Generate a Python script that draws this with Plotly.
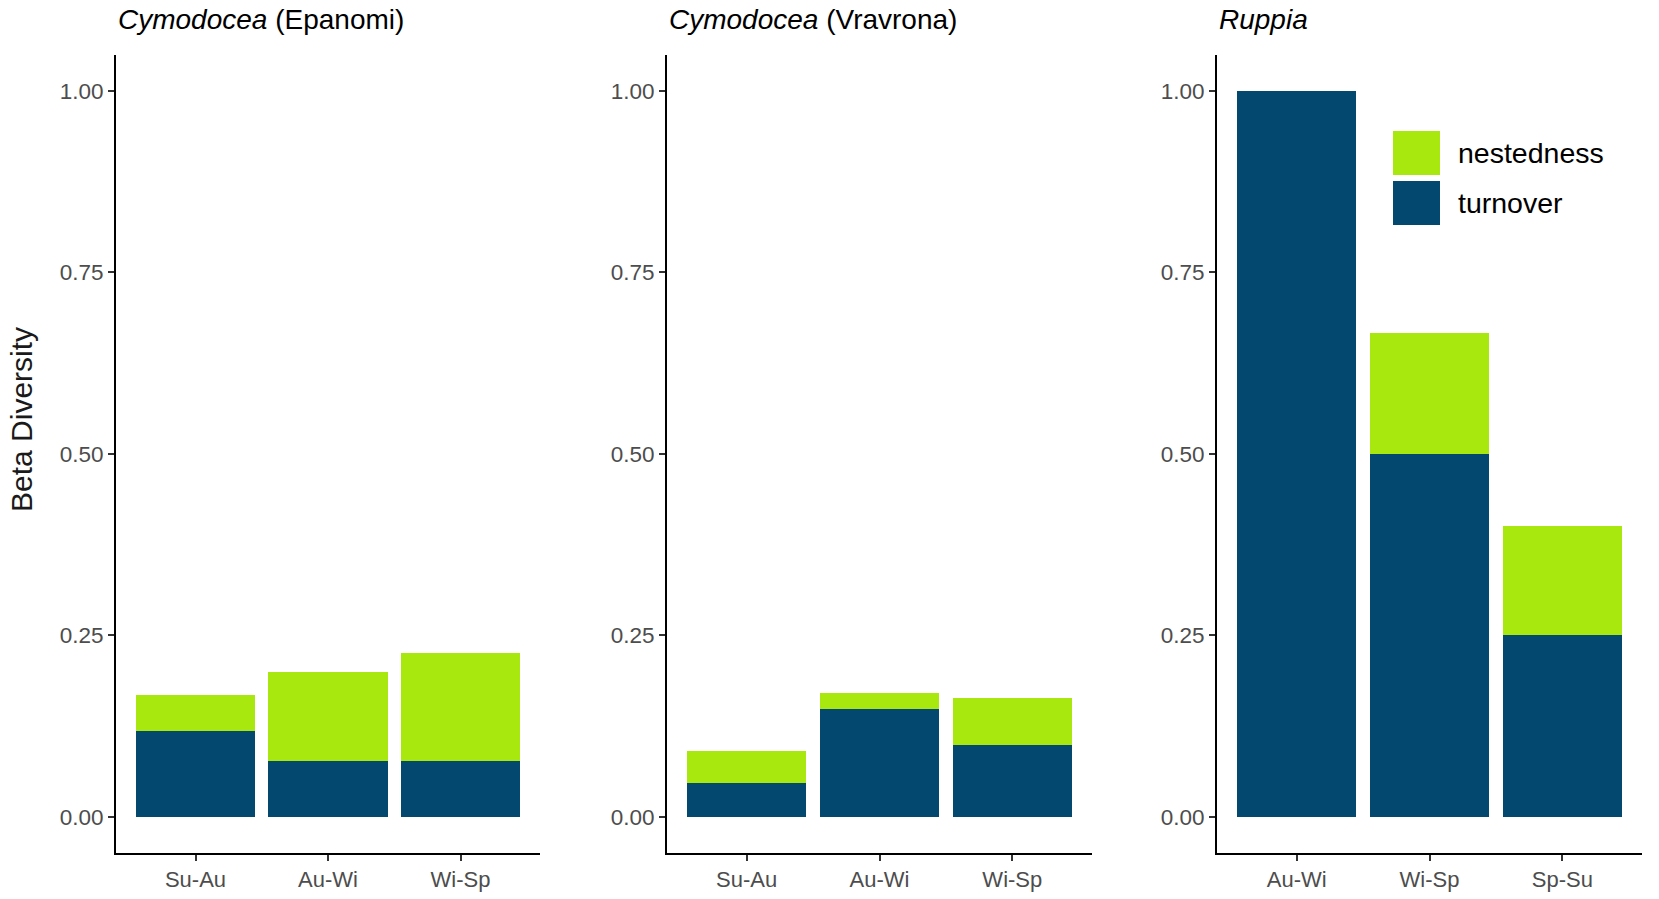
import plotly.graph_objects as go
from plotly.subplots import make_subplots

# ---- data ----
panel_titles = ["<i>Cymodocea</i> (Epanomi)", "<i>Cymodocea</i> (Vravrona)", "<i>Ruppia</i>"]
cats_epanomi = ["Su-Au", "Au-Wi", "Wi-Sp"]
cats_vravrona = ["Su-Au", "Au-Wi", "Wi-Sp"]
cats_ruppia = ["Au-Wi", "Wi-Sp", "Sp-Su"]

turnover_epanomi = [0.118, 0.077, 0.077]
nestedness_epanomi = [0.049, 0.123, 0.149]

turnover_vravrona = [0.047, 0.149, 0.099]
nestedness_vravrona = [0.043, 0.021, 0.064]

turnover_ruppia = [1.0, 0.5, 0.25]
nestedness_ruppia = [0.0, 0.167, 0.15]

y_ticks = [0.0, 0.25, 0.5, 0.75, 1.0]
y_ticklabels = ["0.00", "0.25", "0.50", "0.75", "1.00"]

col_turnover = "#03496F"
col_nested = "#A8E80F"

# page is 1659x899; body margin is removed by post_script below
W, H = 1659, 899
FONT = "Liberation Sans, Arial, sans-serif"


def px_x(p):
    return p / W


def px_y(p):
    return 1 - p / H


fig = make_subplots(rows=1, cols=3)

panels = [
    (cats_epanomi, turnover_epanomi, nestedness_epanomi),
    (cats_vravrona, turnover_vravrona, nestedness_vravrona),
    (cats_ruppia, turnover_ruppia, nestedness_ruppia),
]
for i, (cats, tv, nv) in enumerate(panels, start=1):
    fig.add_trace(go.Bar(x=cats, y=tv, name="turnover", marker_color=col_turnover,
                         marker_line_width=0, showlegend=False), row=1, col=i)
    fig.add_trace(go.Bar(x=cats, y=nv, name="nestedness", marker_color=col_nested,
                         marker_line_width=0, showlegend=False), row=1, col=i)

x_domains = [[px_x(116), px_x(540)], [px_x(667), px_x(1092)], [px_x(1217), px_x(1642)]]
y_dom = [px_y(853), px_y(54.5)]

for i in range(1, 4):
    xa = "xaxis" if i == 1 else f"xaxis{i}"
    ya = "yaxis" if i == 1 else f"yaxis{i}"
    fig.layout[xa].update(domain=x_domains[i - 1], range=[-0.6, 2.6],
                          showline=True, linecolor="black", linewidth=2,
                          ticks="outside", ticklen=6, tickwidth=1.5, tickcolor="#333333",
                          tickfont=dict(size=22, color="#4D4D4D", family=FONT),
                          showgrid=False, zeroline=False, fixedrange=True)
    fig.layout[ya].update(domain=y_dom, range=[-0.05, 1.05],
                          showline=True, linecolor="black", linewidth=2,
                          ticks="outside", ticklen=6, tickwidth=1.5, tickcolor="#333333",
                          tickvals=y_ticks, ticktext=y_ticklabels,
                          tickfont=dict(size=22.5, color="#4D4D4D", family=FONT),
                          showgrid=False, zeroline=False, fixedrange=True)
    fig.add_annotation(text=panel_titles[i - 1], xref=f"x{'' if i == 1 else i} domain",
                       yref="paper", x=0, y=px_y(20), xanchor="left", yanchor="middle",
                       showarrow=False, font=dict(size=28, color="black", family=FONT))

# y-axis title
fig.add_annotation(text="Beta Diversity", xref="paper", yref="paper",
                   x=px_x(21), y=px_y(420), xanchor="center", yanchor="middle",
                   textangle=-90, showarrow=False,
                   font=dict(size=30, color="#1a1a1a", family=FONT))

# manual legend inside panel 3 (key boxes in pixels)
legend_items = [("nestedness", col_nested, 131, 175),
                ("turnover", col_turnover, 181, 225)]
for label, c, top, bot in legend_items:
    fig.add_shape(type="rect", xref="paper", yref="paper",
                  x0=px_x(1393), x1=px_x(1440), y0=px_y(bot), y1=px_y(top),
                  fillcolor=c, line_width=0)
    fig.add_annotation(text=label, xref="paper", yref="paper",
                       x=px_x(1456), y=px_y((top + bot) / 2), xanchor="left", yanchor="middle",
                       showarrow=False, font=dict(size=28.5, color="black", family=FONT))

fig.update_layout(
    barmode="stack", bargap=0.1,
    width=W, height=H,
    margin=dict(l=0, r=0, t=0, b=0),
    paper_bgcolor="white", plot_bgcolor="white",
    font=dict(family=FONT),
    showlegend=False,
)

fig.write_html("out.html",
               config={"displayModeBar": False},
               post_script="document.body.style.margin='0px';document.body.style.overflow='hidden';")
